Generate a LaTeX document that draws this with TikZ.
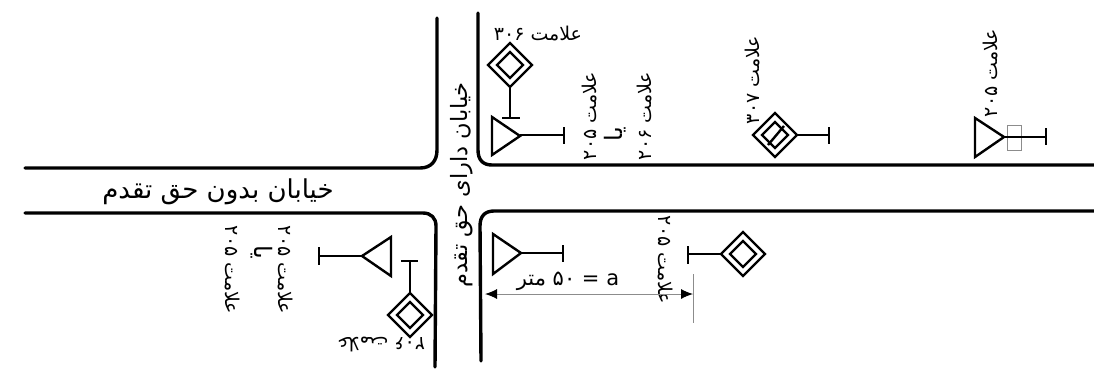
\documentclass[tikz,border=0pt]{standalone}
\usepackage{fontspec}
\setmainfont{Liberation Sans}
\newfontfamily\arabicfont[Script=Arabic]{DejaVu Sans}
\TeXXeTstate=1
\usetikzlibrary{arrows.meta,calc}
\newcommand{\labB}{\arabicfont\beginR علامت \beginL ۲۰۵\endL\endR}
\newcommand{\labC}{\arabicfont\beginR علامت \beginL ۲۰۶\endL\endR}
\newcommand{\labD}{\arabicfont\beginR علامت \beginL ۳۰۶\endL\endR}
\newcommand{\labE}{\arabicfont\beginR علامت \beginL ۳۰۷\endL\endR}
\newcommand{\yaa}{\arabicfont\beginR یا\endR}
\tikzset{
 road/.style={line width=3.4pt,line cap=round},
 sign/.style={line width=2.4pt},
 thin gray/.style={line width=1pt,draw=black!45},
 tx/.style={inner sep=0pt,font=\fontsize{19}{19}\selectfont},
 txor/.style={inner sep=0pt,font=\fontsize{24}{24}\selectfont},
 big/.style={inner sep=0pt,font=\fontsize{26}{26}\selectfont},
 mid/.style={inner sep=0pt,font=\fontsize{22.5}{22.5}\selectfont}
}
\newcommand{\diam}[1]{%
 \draw[sign] ($(#1)+(-22,0)$) -- ($(#1)+(0,-22)$) -- ($(#1)+(22,0)$) -- ($(#1)+(0,22)$) -- cycle;
 \draw[sign] ($(#1)+(-13,0)$) -- ($(#1)+(0,-13)$) -- ($(#1)+(13,0)$) -- ($(#1)+(0,13)$) -- cycle;}
\begin{document}
\begin{tikzpicture}[x=1pt,y=-1pt]
\useasboundingbox (0,0) rectangle (1094,370);
% roads
\draw[road] (25,168) -- (420,168) .. controls (431,168) and (437,161) .. (437,150) -- (437,18);
\draw[road] (25,213) -- (423,213) .. controls (431,213) and (436,218) .. (436,226) -- (435,367);
\draw[road] (478,13) -- (478,150) .. controls (478,160) and (483,165) .. (492,165) -- (1094,165);
\draw[road] (481,361) -- (480,226) .. controls (480,216) and (485,211) .. (494,211) -- (1094,211);
% road labels
\node[big] (main) at (218,192) {\arabicfont\beginR خیابان بدون حق تقدم\endR};
\node[mid,rotate=90] (prio) at (462,185) {\arabicfont\beginR خیابان دارای حق تقدم\endR};
% 306 + triangle top
\coordinate (d1) at (510,65);
\diam{d1}
\draw[sign] (510,87) -- (510,118);
\draw[sign] (502,118) -- (520,118);
\draw[sign] (492,117) -- (520,136) -- (492,155) -- cycle;
\draw[sign] (520,135) -- (564,135);
\draw[sign] (564,127) -- (564,144);
\node[tx] (l1) at (538,34) {\labD};
\node[tx,rotate=90] (l2) at (590,116) {\labB};
\node[txor,rotate=90] (l3) at (615,134) {\yaa};
\node[tx,rotate=90] (l4) at (645,116) {\labC};
% 307
\coordinate (d2) at (775,135);
\diam{d2}
\draw[sign] (768,145) -- (784,126);
\draw[sign] (797,135) -- (829,135);
\draw[sign] (829,127) -- (829,144);
\node[tx,rotate=90] (l5) at (753,80) {\labE};
% 205 right
\draw[thin gray] (1007,125) rectangle (1021,150);
\draw[sign] (975,118) -- (1004,137) -- (975,157) -- cycle;
\draw[sign] (1004,137) -- (1046,137);
\draw[sign] (1046,128) -- (1046,145);
\node[tx,rotate=90] (l6) at (990,73) {\labB};
% bottom right
\draw[sign] (493,234) -- (521,253) -- (493,274) -- cycle;
\draw[sign] (521,253) -- (563,253);
\draw[sign] (563,245) -- (563,262);
\coordinate (d3) at (743,254);
\diam{d3}
\draw[sign] (721,254) -- (688,254);
\draw[sign] (688,246) -- (688,264);
\node[tx,rotate=-90] (l7) at (665,260) {\labB};
% dimension
\coordinate (e1) at (485,294);
\coordinate (e2) at (693,294);
\draw[thin gray] (e2|-0,274) -- (e2|-0,323);
\draw[thin gray,{Latex[black,length=12pt,width=10pt]}-{Latex[black,length=12pt,width=10pt]}] (e1) -- (e2);
\node[inner sep=0pt,font=\fontsize{21}{21}\selectfont] (dim) at (568,281) {\arabicfont\beginR{\beginL a\endL} = \beginL۵۰\endL\ متر\endR};
% bottom left
\draw[sign] (391,237) -- (362,256) -- (391,276) -- cycle;
\draw[sign] (362,256) -- (319,256);
\draw[sign] (319,247) -- (319,265);
\draw[sign] (410,261) -- (410,294);
\draw[sign] (401,261) -- (418,261);
\coordinate (d4) at (410,315);
\diam{d4}
\node[tx,rotate=180] (l8) at (381,344) {\labC};
\node[tx,rotate=-90] (l9) at (232,270) {\labB};
\node[tx,rotate=-90] (l10) at (285,270) {\labB};
\node[txor,rotate=-90] (l11) at (262,252) {\yaa};
\end{tikzpicture}
\end{document}
